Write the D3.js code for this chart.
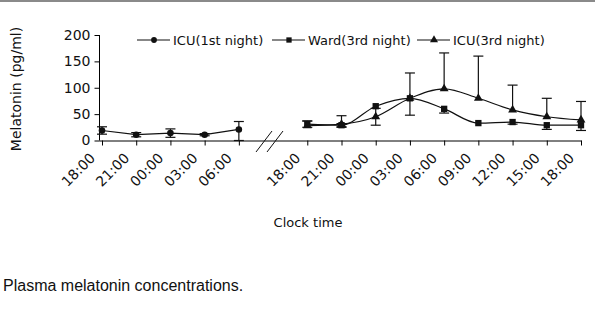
<!DOCTYPE html>
<html>
<head>
<meta charset="utf-8">
<script src="https://cdn.jsdelivr.net/npm/d3@7"></script>
<style>
  body { margin: 0; background: #fff; }
  svg text { font-family: "DejaVu Sans", sans-serif; fill: #111; }
</style>
</head>
<body>
<script>
// slot index on the time axis (slot 5 is the axis break)
let leftSlots = [0, 1, 2, 3, 4];
let rightSlots = [6, 7, 8, 9, 10, 11, 12, 13, 14];
let leftLabels = ["18:00", "21:00", "00:00", "03:00", "06:00"];
let rightLabels = ["18:00", "21:00", "00:00", "03:00", "06:00", "09:00", "12:00", "15:00", "18:00"];
let yTicks = [0, 50, 100, 150, 200];

// ICU (1st night)
let icu1 = [19, 11, 14, 11, 21];
let icu1Up = [7, 4, 8, 2, 15];
let icu1Down = [7, 4, 8, 2, 21];

// Ward (3rd night)
let ward = [31, 29, 65, 80, 60, 33, 35, 29, 29];
let wardUp = [6, 3, 0, 0, 0, 0, 0, 0, 0];
let wardDown = [6, 3, 0, 32, 8, 0, 4, 8, 10];

// ICU (3rd night)
let icu3 = [28, 31, 45, 80, 98, 80, 58, 45, 39];
let icu3Up = [9, 16, 16, 48, 68, 80, 47, 35, 35];
let icu3Down = [0, 6, 16, 0, 0, 0, 0, 0, 0];

let svg = d3.select("body").append("svg")
    .attr("width", 595)
    .attr("height", 312);

// grey rule at the top
svg.append("rect").attr("x", 0).attr("y", 0).attr("width", 595).attr("height", 2).attr("fill", "#8a8a8a");

let x = d3.scaleLinear().domain([0, 14]).range([102, 581]);
let y = d3.scaleLinear().domain([0, 200]).range([140.5, 35]);

// y axis
let yAxis = svg.append("g")
    .attr("transform", "translate(99.5,0)")
    .call(d3.axisLeft(y).tickValues(yTicks).tickSize(5).tickPadding(4));
yAxis.select(".domain").attr("d", "M0," + y(200) + "V" + y(0));
yAxis.selectAll("text").style("font-size", "14px");

// x axis (one line, ticks at both blocks)
let allSlots = leftSlots.concat(rightSlots);
let allLabels = leftLabels.concat(rightLabels);
let xAxis = svg.append("g")
    .attr("transform", "translate(0," + y(0) + ")")
    .call(d3.axisBottom(x).tickValues(allSlots).tickSize(5).tickFormat(""));
xAxis.select(".domain").attr("d", "M99.5,0.5H" + (x(14) + 0.5));

svg.selectAll(".xlab")
    .data(allSlots)
    .enter().append("text")
    .attr("class", "xlab")
    .attr("transform", (d) => "translate(" + (x(d) - 6) + ",159) rotate(-45)")
    .attr("text-anchor", "end")
    .style("font-size", "14px")
    .text((d, i) => allLabels[i]);

// axis break marks
svg.selectAll(".brk")
    .data([0, 11])
    .enter().append("line")
    .attr("x1", (d) => 256 + d).attr("y1", 152)
    .attr("x2", (d) => 272 + d).attr("y2", 131)
    .attr("stroke", "#111").attr("stroke-width", 1);

// axis titles
svg.append("text")
    .attr("transform", "translate(21,89) rotate(-90)")
    .attr("text-anchor", "middle")
    .style("font-size", "14px")
    .text("Melatonin (pg/ml)");

svg.append("text")
    .attr("x", 308).attr("y", 227)
    .attr("text-anchor", "middle")
    .style("font-size", "13px")
    .text("Clock time");

svg.append("text")
    .attr("x", 3).attr("y", 291)
    .style("font-family", "'Liberation Sans', Arial, sans-serif")
    .style("font-size", "16px")
    .text("Plasma melatonin concentrations.");

// helper to draw one series
function drawSeries(slots, vals, up, down, symbolType, size, curve) {
    let pts = slots.map((s, i) => ({ s: s, v: vals[i], up: up[i], down: down[i] }));

    let eb = svg.append("g").attr("stroke", "#111").attr("stroke-width", 1.2).attr("fill", "none");
    pts.forEach(p => {
        let top = p.v + p.up, bot = p.v - p.down;
        if (p.up > 0 || p.down > 0) {
            eb.append("line").attr("x1", x(p.s)).attr("x2", x(p.s)).attr("y1", y(top)).attr("y2", y(bot));
        }
        if (p.up > 0) {
            eb.append("line").attr("x1", x(p.s) - 5).attr("x2", x(p.s) + 5).attr("y1", y(top)).attr("y2", y(top));
        }
        if (p.down > 0) {
            eb.append("line").attr("x1", x(p.s) - 5).attr("x2", x(p.s) + 5).attr("y1", y(bot)).attr("y2", y(bot));
        }
    });

    let line = d3.line().x(d => x(d.s)).y(d => y(d.v)).curve(curve);
    svg.append("path").datum(pts)
        .attr("d", line)
        .attr("fill", "none").attr("stroke", "#111").attr("stroke-width", 1.2);

    svg.selectAll(null).data(pts).enter().append("path")
        .attr("transform", d => "translate(" + x(d.s) + "," + y(d.v) + ")")
        .attr("d", d3.symbol().type(symbolType).size(size))
        .attr("fill", "#111");
}

drawSeries(leftSlots, icu1, icu1Up, icu1Down, d3.symbolCircle, 34, d3.curveLinear);
drawSeries(rightSlots, ward, wardUp, wardDown, d3.symbolSquare, 40, d3.curveMonotoneX);
drawSeries(rightSlots, icu3, icu3Up, icu3Down, d3.symbolTriangle, 34, d3.curveMonotoneX);

// legend
let legend = [
    { name: "ICU(1st night)", type: d3.symbolCircle, size: 26, x: 137 },
    { name: "Ward(3rd night)", type: d3.symbolSquare, size: 28, x: 272 },
    { name: "ICU(3rd night)", type: d3.symbolTriangle, size: 28, x: 417 }
];
let lg = svg.selectAll(".lg").data(legend).enter().append("g")
    .attr("transform", d => "translate(" + d.x + ",40)");
lg.append("line").attr("x1", 0).attr("x2", 33).attr("y1", 0).attr("y2", 0)
    .attr("stroke", "#111").attr("stroke-width", 1.2);
lg.append("path").attr("transform", "translate(17,0)")
    .attr("d", d => d3.symbol().type(d.type).size(d.size)())
    .attr("fill", "#111");
lg.append("text").attr("x", 36).attr("y", 5)
    .style("font-size", "13px")
    .text(d => d.name);
</script>
</body>
</html>
